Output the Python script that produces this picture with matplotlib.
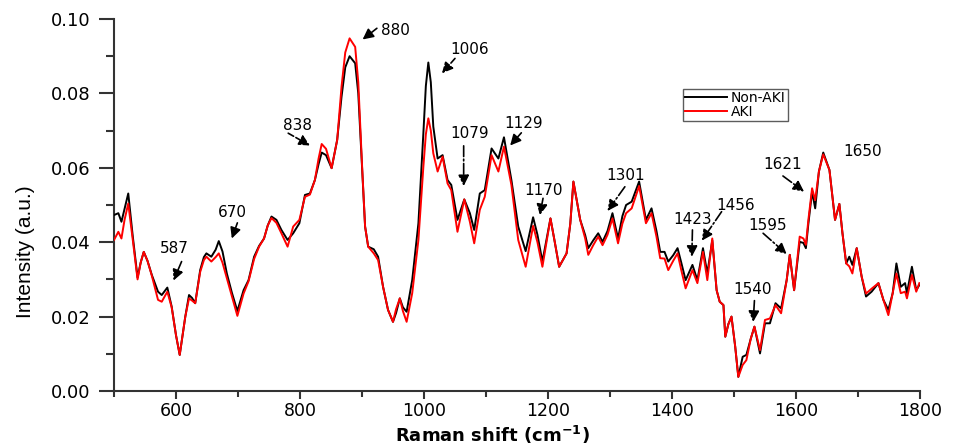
import matplotlib
matplotlib.use("Agg")
import matplotlib.pyplot as plt
from matplotlib.ticker import MultipleLocator, FixedLocator

# ---- data ----
wavenumber = [500, 507, 512, 517, 523, 530, 538, 543, 548, 554, 561, 571, 577, 586, 593,
              600, 606, 615, 621, 626, 631, 639, 645, 649, 657, 664, 669, 675, 682, 690,
              699, 709, 717, 726, 734, 742, 748, 754, 762, 770, 780, 789, 799, 808, 816,
              824, 830, 835, 842, 851, 860, 867, 873, 880, 889, 894, 900, 905, 910, 919,
              926, 934, 942, 950, 955, 961, 966, 972, 981, 991, 999, 1003, 1007, 1011, 1015,
              1022, 1030, 1038, 1044, 1054, 1065, 1074, 1081, 1090, 1098, 1109, 1120, 1129, 1141, 1152,
              1164, 1176, 1183, 1191, 1204, 1211, 1218, 1230, 1236, 1241, 1252, 1260, 1265, 1273, 1281,
              1288, 1296, 1304, 1313, 1320, 1326, 1335, 1347, 1358, 1367, 1375, 1381, 1388, 1394, 1402,
              1409, 1415, 1422, 1433, 1441, 1450, 1457, 1465, 1472, 1477, 1483, 1486, 1491, 1496, 1502,
              1507, 1514, 1520, 1527, 1533, 1542, 1550, 1558, 1567, 1576, 1585, 1590, 1597, 1606, 1612,
              1616, 1620, 1626, 1631, 1637, 1644, 1654, 1660, 1663, 1670, 1675, 1681, 1686, 1691, 1698,
              1706, 1713, 1722, 1733, 1741, 1749, 1756, 1762, 1769, 1776, 1779, 1787, 1794, 1799]

non_aki = [0.0473, 0.0478, 0.0455, 0.0490, 0.0531, 0.0420, 0.0305, 0.0345, 0.0374, 0.0350, 0.0312, 0.0267, 0.0258, 0.0278, 0.0227,
           0.0150, 0.0097, 0.0200, 0.0258, 0.0250, 0.0236, 0.0325, 0.0360, 0.0370, 0.0361, 0.0380, 0.0403, 0.0375, 0.0316, 0.0265,
           0.0215, 0.0271, 0.0298, 0.0361, 0.0390, 0.0410, 0.0445, 0.0469, 0.0460, 0.0433, 0.0406, 0.0424, 0.0451, 0.0527, 0.0531,
           0.0567, 0.0610, 0.0641, 0.0634, 0.0599, 0.0675, 0.0791, 0.0870, 0.0900, 0.0881, 0.0800, 0.0603, 0.0442, 0.0388, 0.0381,
           0.0361, 0.0280, 0.0218, 0.0186, 0.0210, 0.0249, 0.0225, 0.0213, 0.0298, 0.0451, 0.0693, 0.0820, 0.0883, 0.0830, 0.0711,
           0.0625, 0.0634, 0.0567, 0.0554, 0.0460, 0.0515, 0.0478, 0.0433, 0.0531, 0.0540, 0.0652, 0.0625, 0.0682, 0.0567, 0.0442,
           0.0376, 0.0467, 0.0420, 0.0348, 0.0464, 0.0400, 0.0334, 0.0370, 0.0450, 0.0563, 0.0460, 0.0419, 0.0384, 0.0405, 0.0424,
           0.0401, 0.0430, 0.0478, 0.0410, 0.0470, 0.0500, 0.0509, 0.0563, 0.0460, 0.0491, 0.0430, 0.0374, 0.0374, 0.0348, 0.0365,
           0.0384, 0.0345, 0.0298, 0.0339, 0.0298, 0.0384, 0.0316, 0.0405, 0.0271, 0.0240, 0.0231, 0.0146, 0.0180, 0.0200, 0.0119,
           0.0038, 0.0092, 0.0097, 0.0140, 0.0173, 0.0101, 0.0182, 0.0182, 0.0236, 0.0222, 0.0298, 0.0366, 0.0271, 0.0401, 0.0398,
           0.0384, 0.0450, 0.0536, 0.0491, 0.0590, 0.0641, 0.0594, 0.0504, 0.0460, 0.0503, 0.0424, 0.0343, 0.0361, 0.0339, 0.0384,
           0.0307, 0.0254, 0.0267, 0.0290, 0.0245, 0.0218, 0.0263, 0.0343, 0.0280, 0.0290, 0.0263, 0.0334, 0.0271, 0.0285]

aki = [0.0406, 0.0428, 0.0410, 0.0460, 0.0504, 0.0410, 0.0300, 0.0345, 0.0374, 0.0350, 0.0310, 0.0245, 0.0240, 0.0267, 0.0225,
       0.0150, 0.0097, 0.0200, 0.0249, 0.0243, 0.0236, 0.0320, 0.0352, 0.0361, 0.0348, 0.0360, 0.0370, 0.0345, 0.0303, 0.0255,
       0.0202, 0.0262, 0.0295, 0.0355, 0.0388, 0.0410, 0.0445, 0.0465, 0.0452, 0.0424, 0.0388, 0.0442, 0.0460, 0.0522, 0.0528,
       0.0567, 0.0625, 0.0664, 0.0651, 0.0599, 0.0675, 0.0818, 0.0910, 0.0948, 0.0925, 0.0830, 0.0610, 0.0442, 0.0388, 0.0370,
       0.0352, 0.0280, 0.0218, 0.0186, 0.0220, 0.0249, 0.0215, 0.0186, 0.0263, 0.0406, 0.0603, 0.0690, 0.0733, 0.0700, 0.0639,
       0.0590, 0.0630, 0.0558, 0.0540, 0.0428, 0.0515, 0.0455, 0.0397, 0.0487, 0.0522, 0.0634, 0.0590, 0.0657, 0.0554, 0.0406,
       0.0334, 0.0444, 0.0400, 0.0334, 0.0464, 0.0400, 0.0334, 0.0370, 0.0450, 0.0563, 0.0460, 0.0410, 0.0366, 0.0392, 0.0415,
       0.0392, 0.0420, 0.0464, 0.0397, 0.0450, 0.0478, 0.0491, 0.0551, 0.0451, 0.0478, 0.0415, 0.0357, 0.0356, 0.0325, 0.0350,
       0.0370, 0.0325, 0.0276, 0.0325, 0.0290, 0.0374, 0.0298, 0.0410, 0.0271, 0.0240, 0.0231, 0.0146, 0.0180, 0.0200, 0.0119,
       0.0038, 0.0070, 0.0083, 0.0140, 0.0173, 0.0110, 0.0191, 0.0195, 0.0231, 0.0209, 0.0298, 0.0366, 0.0271, 0.0415, 0.0410,
       0.0393, 0.0460, 0.0545, 0.0513, 0.0590, 0.0636, 0.0594, 0.0504, 0.0460, 0.0503, 0.0424, 0.0343, 0.0335, 0.0316, 0.0384,
       0.0307, 0.0262, 0.0275, 0.0290, 0.0245, 0.0204, 0.0263, 0.0316, 0.0263, 0.0267, 0.0249, 0.0312, 0.0267, 0.0290]

series_labels = ["Non-AKI", "AKI"]
x_tick_values = [600, 800, 1000, 1200, 1400, 1600, 1800]
y_tick_values = [0.00, 0.02, 0.04, 0.06, 0.08, 0.10]

# peak annotations: label, text position, arrow tail, arrow head, line style
peak_labels = ["587", "670", "838", "880", "1006", "1079", "1129", "1170",
               "1301", "1423", "1456", "1540", "1595", "1621", "1650"]
label_pos = [(598, 0.0384), (691, 0.0479), (796, 0.0713), (954, 0.0968), (1073, 0.0917),
             (1074, 0.0693), (1160, 0.0720), (1193, 0.0538), (1326, 0.0579), (1433, 0.0462),
             (1503, 0.0498), (1530, 0.0272), (1554, 0.0444), (1578, 0.0608), (1708, 0.0645)]
arrow_tail = [(609, 0.0348), (699, 0.0452), (781, 0.0693), (924, 0.0975), (1050, 0.0894),
              (1064, 0.0659), (1157, 0.0694), (1192, 0.0518), (1324, 0.0549), (1433, 0.0433),
              (1480, 0.0482), (1533, 0.0243), (1547, 0.0424), (1579, 0.0578), None]
arrow_head = [(596, 0.0297), (690, 0.0410), (816, 0.0660), (901, 0.0945), (1029, 0.0854),
              (1064, 0.0551), (1139, 0.0660), (1187, 0.0473), (1296, 0.0484), (1432, 0.0361),
              (1448, 0.0404), (1531, 0.0186), (1585, 0.0368), (1613, 0.0536), None]
arrow_style = ["-.", "-", "--", "-", "--", "-.", "-", "--",
               "-.", "-.", "-.", "-.", "-.", "-.", None]

# ---- figure ----
fig = plt.figure(figsize=(9.58, 4.46), dpi=100)
ax = fig.add_axes([0.119, 0.1233, 0.8413, 0.8341])

ax.plot(wavenumber, non_aki, color="black", lw=1.4, label=series_labels[0], zorder=3,
        solid_joinstyle="round")
ax.plot(wavenumber, aki, color="#ff0000", lw=1.4, label=series_labels[1], zorder=4,
        solid_joinstyle="round")

ax.set_xlim(500, 1800)
ax.set_ylim(0, 0.10)

ax.xaxis.set_major_locator(FixedLocator(x_tick_values))
ax.xaxis.set_minor_locator(MultipleLocator(100))
ax.yaxis.set_major_locator(FixedLocator(y_tick_values))
ax.yaxis.set_minor_locator(MultipleLocator(0.01))
ax.set_xticklabels([str(v) for v in x_tick_values])
ax.set_yticklabels([f"{v:.2f}" for v in y_tick_values])

for s in ["top", "right"]:
    ax.spines[s].set_visible(False)
for s in ["left", "bottom"]:
    ax.spines[s].set_linewidth(1.5)
    ax.spines[s].set_color("#333333")

ax.tick_params(axis="x", which="major", direction="out", length=6, width=1.5,
               color="#333333", labelsize=12.5, pad=2)
ax.tick_params(axis="x", which="minor", direction="out", length=4, width=1.5, color="#333333")
ax.tick_params(axis="y", which="major", direction="out", length=11, width=1.5,
               color="#333333", labelsize=13, pad=6)
ax.tick_params(axis="y", which="minor", direction="out", length=6, width=1.5, color="#333333")

ax.set_xlabel(r"Raman shift (cm$^{\mathbf{-1}}$)", fontsize=13, fontweight="bold")
ax.xaxis.label.set_va("center")
ax.xaxis.set_label_coords(0.47, -0.117)

ax.set_ylabel("Intensity (a.u.)", fontsize=15,
              family=["Liberation Sans Narrow", "Liberation Sans", "DejaVu Sans"])
ax.yaxis.label.set_va("center")
ax.yaxis.set_label_coords(-0.110, 0.374)

for lab, pos, tail, head, ls in zip(peak_labels, label_pos, arrow_tail, arrow_head, arrow_style):
    ax.text(pos[0], pos[1], lab, fontsize=11, ha="center", va="center", zorder=6)
    if tail is not None:
        ax.annotate("", xy=head, xytext=tail,
                    arrowprops=dict(arrowstyle="-|>", color="black", lw=1.2,
                                    linestyle=ls, mutation_scale=16,
                                    shrinkA=0, shrinkB=0), zorder=6)

leg = ax.legend(loc="upper left", bbox_to_anchor=(0.706, 0.812), fontsize=10,
                frameon=True, fancybox=False, edgecolor="#333333",
                borderpad=0.15, labelspacing=0.0, handlelength=3.0,
                handletextpad=0.3, borderaxespad=0.0)
leg.get_frame().set_linewidth(1.0)

fig.savefig("out.png", dpi=100)
